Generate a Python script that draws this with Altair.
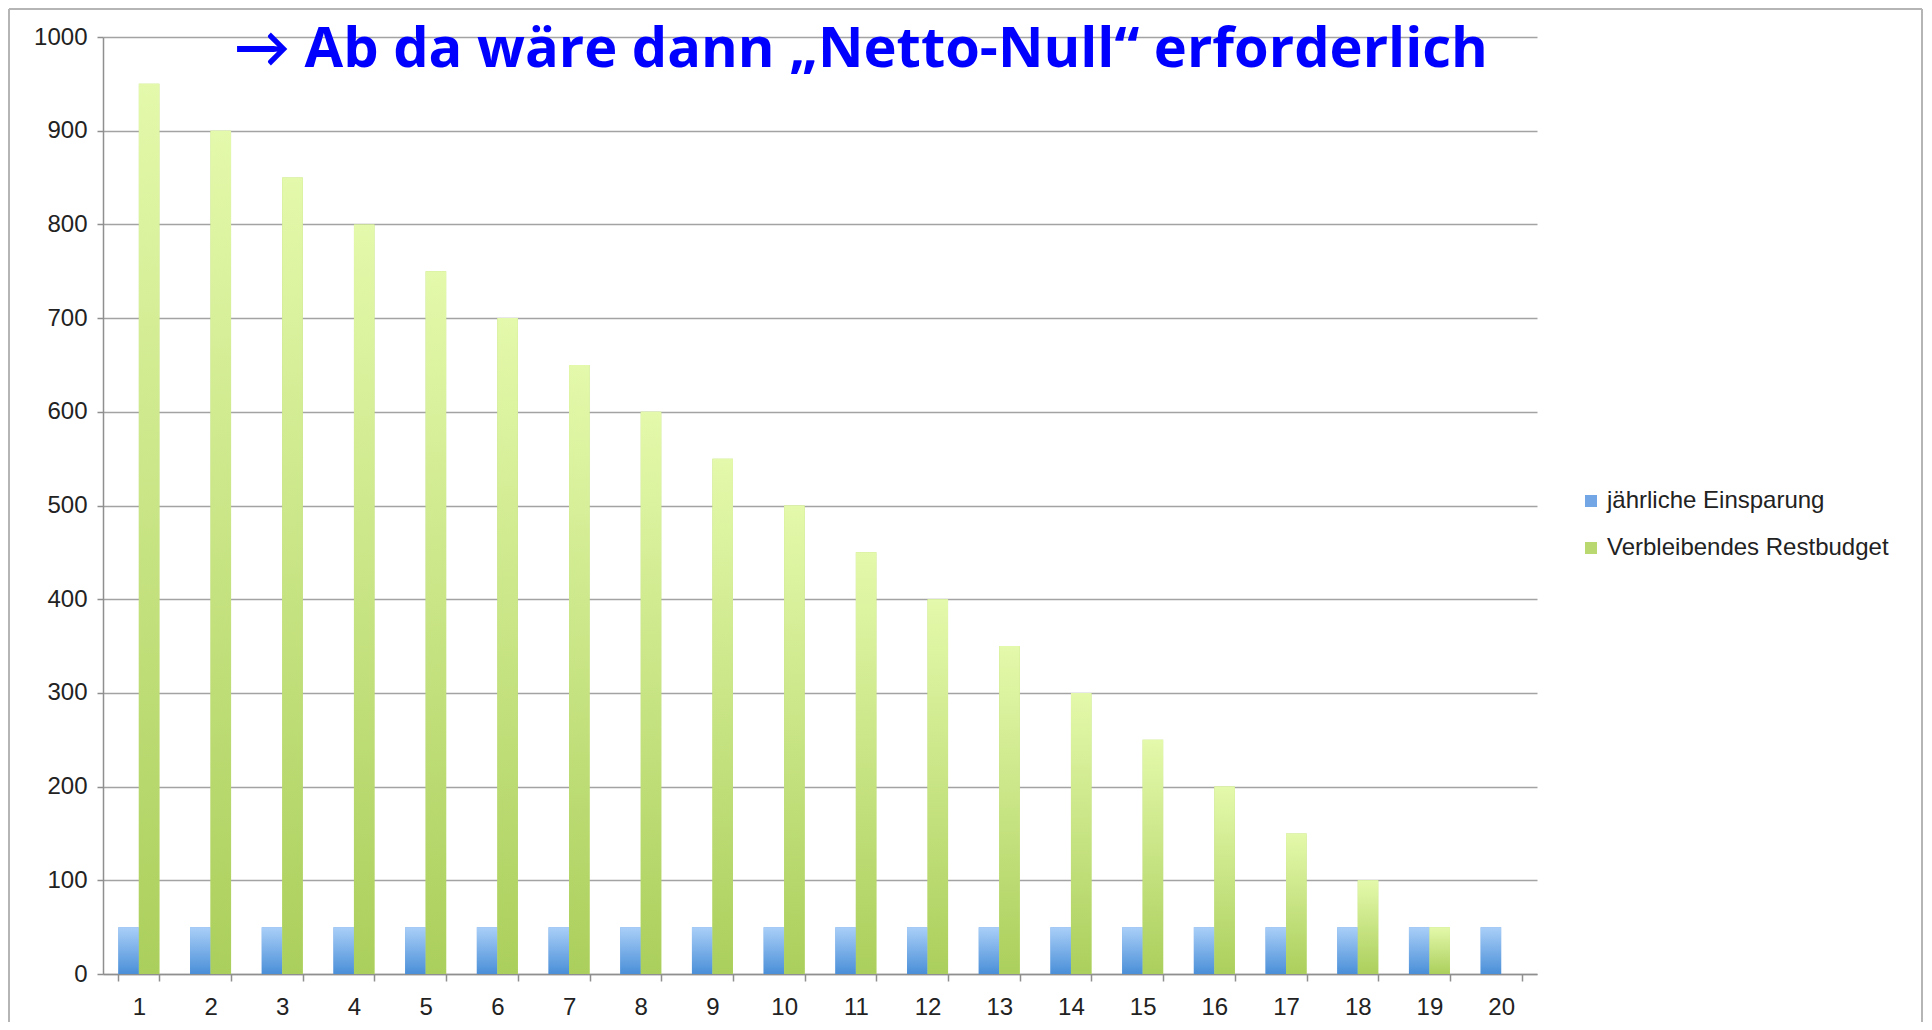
import altair as alt
import pandas as pd

# ---- data ----
jahre = list(range(1, 21))
einsparung = [50, 50, 50, 50, 50, 50, 50, 50, 50, 50, 50, 50, 50, 50, 50, 50, 50, 50, 50, 50]
restbudget = [950, 900, 850, 800, 750, 700, 650, 600, 550, 500, 450, 400, 350, 300, 250, 200, 150, 100, 50, 0]
serien = ["jährliche Einsparung", "Verbleibendes Restbudget"]
y_ticks = [0, 100, 200, 300, 400, 500, 600, 700, 800, 900, 1000]
titel = "→ Ab da wäre dann „Netto-Null“ erforderlich"

rows = []
for j, e, r in zip(jahre, einsparung, restbudget):
    rows.append({"Jahr": j, "Reihe": serien[0], "Wert": e})
    rows.append({"Jahr": j, "Reihe": serien[1], "Wert": r})
df = pd.DataFrame(rows)

W, H = 1434, 937
PAD = {"left": 95, "top": 29, "right": 387, "bottom": 48}

FONT = "Liberation Sans"
GRAY = "#8f8f8f"

x_enc = alt.X(
    "Jahr:O",
    scale=alt.Scale(domain=jahre, paddingInner=0.428, paddingOuter=0.214),
    axis=alt.Axis(
        title=None, labelAngle=0, tickBand="extent", tickSize=7, labelPadding=14,
        labelFontSize=24, labelColor="#222222", labelFont=FONT,
        domainColor=GRAY, tickColor=GRAY, domainWidth=1.5, tickWidth=1.5, grid=False,
    ),
)
y_enc = alt.Y(
    "Wert:Q",
    scale=alt.Scale(domain=[0, 1000], nice=False),
    axis=alt.Axis(
        title=None, values=y_ticks, format="d", tickSize=6, labelPadding=10,
        labelFontSize=24, labelColor="#222222", labelFont=FONT,
        domainColor=GRAY, tickColor=GRAY, domainWidth=1.5, tickWidth=1.5,
        grid=True, gridColor="#a3a3a3", gridWidth=1.6,
    ),
)
xo_enc = alt.XOffset("Reihe:N", scale=alt.Scale(domain=serien, paddingInner=0, paddingOuter=0))

base = alt.Chart(df)

bars = base.mark_bar().encode(
    x=x_enc, y=y_enc, xOffset=xo_enc,
    color=alt.Color(
        "Reihe:N",
        scale=alt.Scale(domain=serien, range=["#72a6e4", "#b9d970"]),
        legend=alt.Legend(
            title=None, orient="none", legendX=1476, legendY=452,
            symbolType="square", symbolSize=144, symbolStrokeWidth=0,
            labelFontSize=24, labelFont=FONT, labelColor="#222222", labelLimit=0,
            rowPadding=23, labelOffset=4,
        ),
    ),
)

grad_blue = alt.Gradient(
    gradient="linear", x1=0, x2=0, y1=0, y2=1,
    stops=[alt.GradientStop(color="#aacff8", offset=0),
           alt.GradientStop(color="#4a8fd8", offset=1)],
)
grad_green = alt.Gradient(
    gradient="linear", x1=0, x2=0, y1=0, y2=1,
    stops=[alt.GradientStop(color="#e4f9ab", offset=0),
           alt.GradientStop(color="#abcf5c", offset=1)],
)

blue_bars = base.mark_bar(fill=grad_blue).encode(x=x_enc, y=y_enc, xOffset=xo_enc).transform_filter(
    alt.datum.Reihe == serien[0])
green_bars = base.mark_bar(fill=grad_green).encode(x=x_enc, y=y_enc, xOffset=xo_enc).transform_filter(
    alt.datum.Reihe == serien[1])

title_layer = alt.Chart(alt.Data(values=[{"t": titel}])).mark_text(
    align="left", baseline="alphabetic", font="Open Sans, Lato", fontWeight="bold",
    fontSize=56, color="#0000ff",
).encode(x=alt.value(131), y=alt.value(30), text="t:N")

one = alt.Data(values=[{"k": 1}])
frame_left = alt.Chart(one).mark_rule(color="#b5b5b5", strokeWidth=2).encode(
    x=alt.value(-94), y=alt.value(-28), y2=alt.value(985))
frame_top = alt.Chart(one).mark_rule(color="#b5b5b5", strokeWidth=2).encode(
    x=alt.value(-94), x2=alt.value(1819), y=alt.value(-28))
frame_right = alt.Chart(one).mark_rule(color="#b5b5b5", strokeWidth=2).encode(
    x=alt.value(1819), y=alt.value(-28), y2=alt.value(985))

chart = alt.layer(
    bars, blue_bars, green_bars, title_layer, frame_left, frame_top, frame_right
).properties(
    width=W, height=H,
    autosize=alt.AutoSizeParams(type="none"),
    padding=PAD,
    background="white",
).configure_view(stroke=None)

chart.save("out.html", embed_options={"renderer": "svg", "actions": False})
